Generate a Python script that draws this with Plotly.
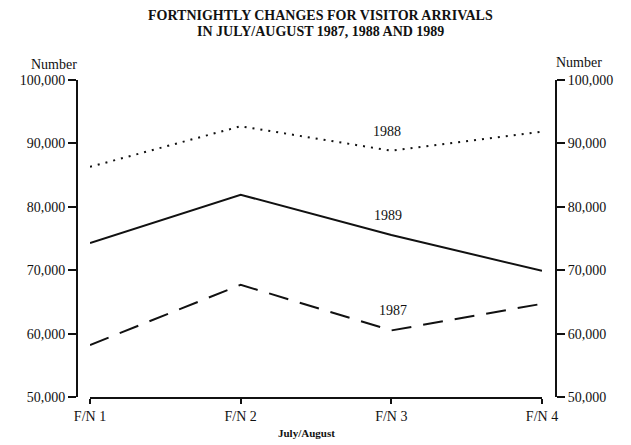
import plotly.graph_objects as go

categories = ["F/N 1", "F/N 2", "F/N 3", "F/N 4"]
arrivals_1987 = [58200, 67700, 60500, 64700]
arrivals_1988 = [86300, 92700, 88850, 91850]
arrivals_1989 = [74300, 81900, 75550, 69900]
y_ticks = [50000, 60000, 70000, 80000, 90000, 100000]
title_lines = ["FORTNIGHTLY CHANGES FOR VISITOR ARRIVALS",
               "IN JULY/AUGUST 1987, 1988 AND 1989"]
series_labels = [("1988", 1.97, 91800), ("1989", 1.98, 78550), ("1987", 2.01, 63700)]

OFF = 8  # page body margin
W, H = 631 - OFF, 445 - OFF
# plot area in reference pixel coords: x 77..556, y 80..397
L, T = 77 - OFF, 80 - OFF
R = W - (556 - OFF)
B = H - (397 - OFF)
PW, PH = W - L - R, H - T - B

def px(xp):
    return (xp - OFF - L) / PW

def py(yp):
    return (H - B - (yp - OFF)) / PH

FONT = "Liberation Serif"
BLACK = "#111111"

fig = go.Figure()
fig.add_trace(go.Scatter(x=categories, y=arrivals_1988, mode="lines",
                         line=dict(color=BLACK, width=2, dash="2px,6px"),
                         name="1988", hoverinfo="skip"))
fig.add_trace(go.Scatter(x=categories, y=arrivals_1989, mode="lines",
                         line=dict(color=BLACK, width=2),
                         name="1989", hoverinfo="skip"))
fig.add_trace(go.Scatter(x=categories, y=arrivals_1987, mode="lines",
                         line=dict(color=BLACK, width=2, dash="20px,12px"),
                         name="1987", hoverinfo="skip"))
# invisible trace to activate right axis
fig.add_trace(go.Scatter(x=categories, y=arrivals_1989, mode="lines",
                         line=dict(color="rgba(0,0,0,0)", width=0),
                         yaxis="y2", showlegend=False, hoverinfo="skip"))

yax = dict(range=[50000, 100000], tickvals=y_ticks, tickformat=",",
           showline=True, linecolor=BLACK, linewidth=2, ticks="outside",
           ticklen=8, tickwidth=1.5, tickcolor=BLACK, showgrid=False,
           zeroline=False, tickfont=dict(family=FONT, size=14, color=BLACK))

def note(text, x, y, size, xanchor="center", xref="paper", yref="paper"):
    return dict(text=text, x=x, y=y, xref=xref, yref=yref, showarrow=False,
                xanchor=xanchor, yanchor="middle", borderpad=0,
                font=dict(family=FONT, size=size, color=BLACK))

annotations = []
for text, xv, yv in series_labels:
    annotations.append(note(text, xv, yv, 14, xref="x", yref="y"))
annotations.append(note("<b>" + title_lines[0] + "</b>", px(320), py(16), 14))
annotations.append(note("<b>" + title_lines[1] + "</b>", px(320), py(31.8), 14))
annotations.append(note("Number", px(78), py(64), 14, xanchor="right"))
annotations.append(note("Number", px(555), py(63), 14, xanchor="left"))
annotations.append(note("<b>July/August</b>", px(306), py(433), 11))

fig.update_layout(
    width=W, height=H,
    margin=dict(l=L, r=R, t=T, b=B, pad=0),
    paper_bgcolor="white", plot_bgcolor="white",
    showlegend=False,
    xaxis=dict(domain=[px(90), px(542)], range=[0, 3], type="category",
               showline=True, linecolor=BLACK, linewidth=1.5, ticks="outside",
               ticklen=5, tickwidth=1.5, tickcolor=BLACK, showgrid=False,
               zeroline=False, tickfont=dict(family=FONT, size=14, color=BLACK)),
    yaxis=dict(anchor="free", position=0, side="left", **yax),
    yaxis2=dict(anchor="free", position=1, side="right", overlaying="y", **yax),
    annotations=annotations,
)

fig.write_html("out.html")
